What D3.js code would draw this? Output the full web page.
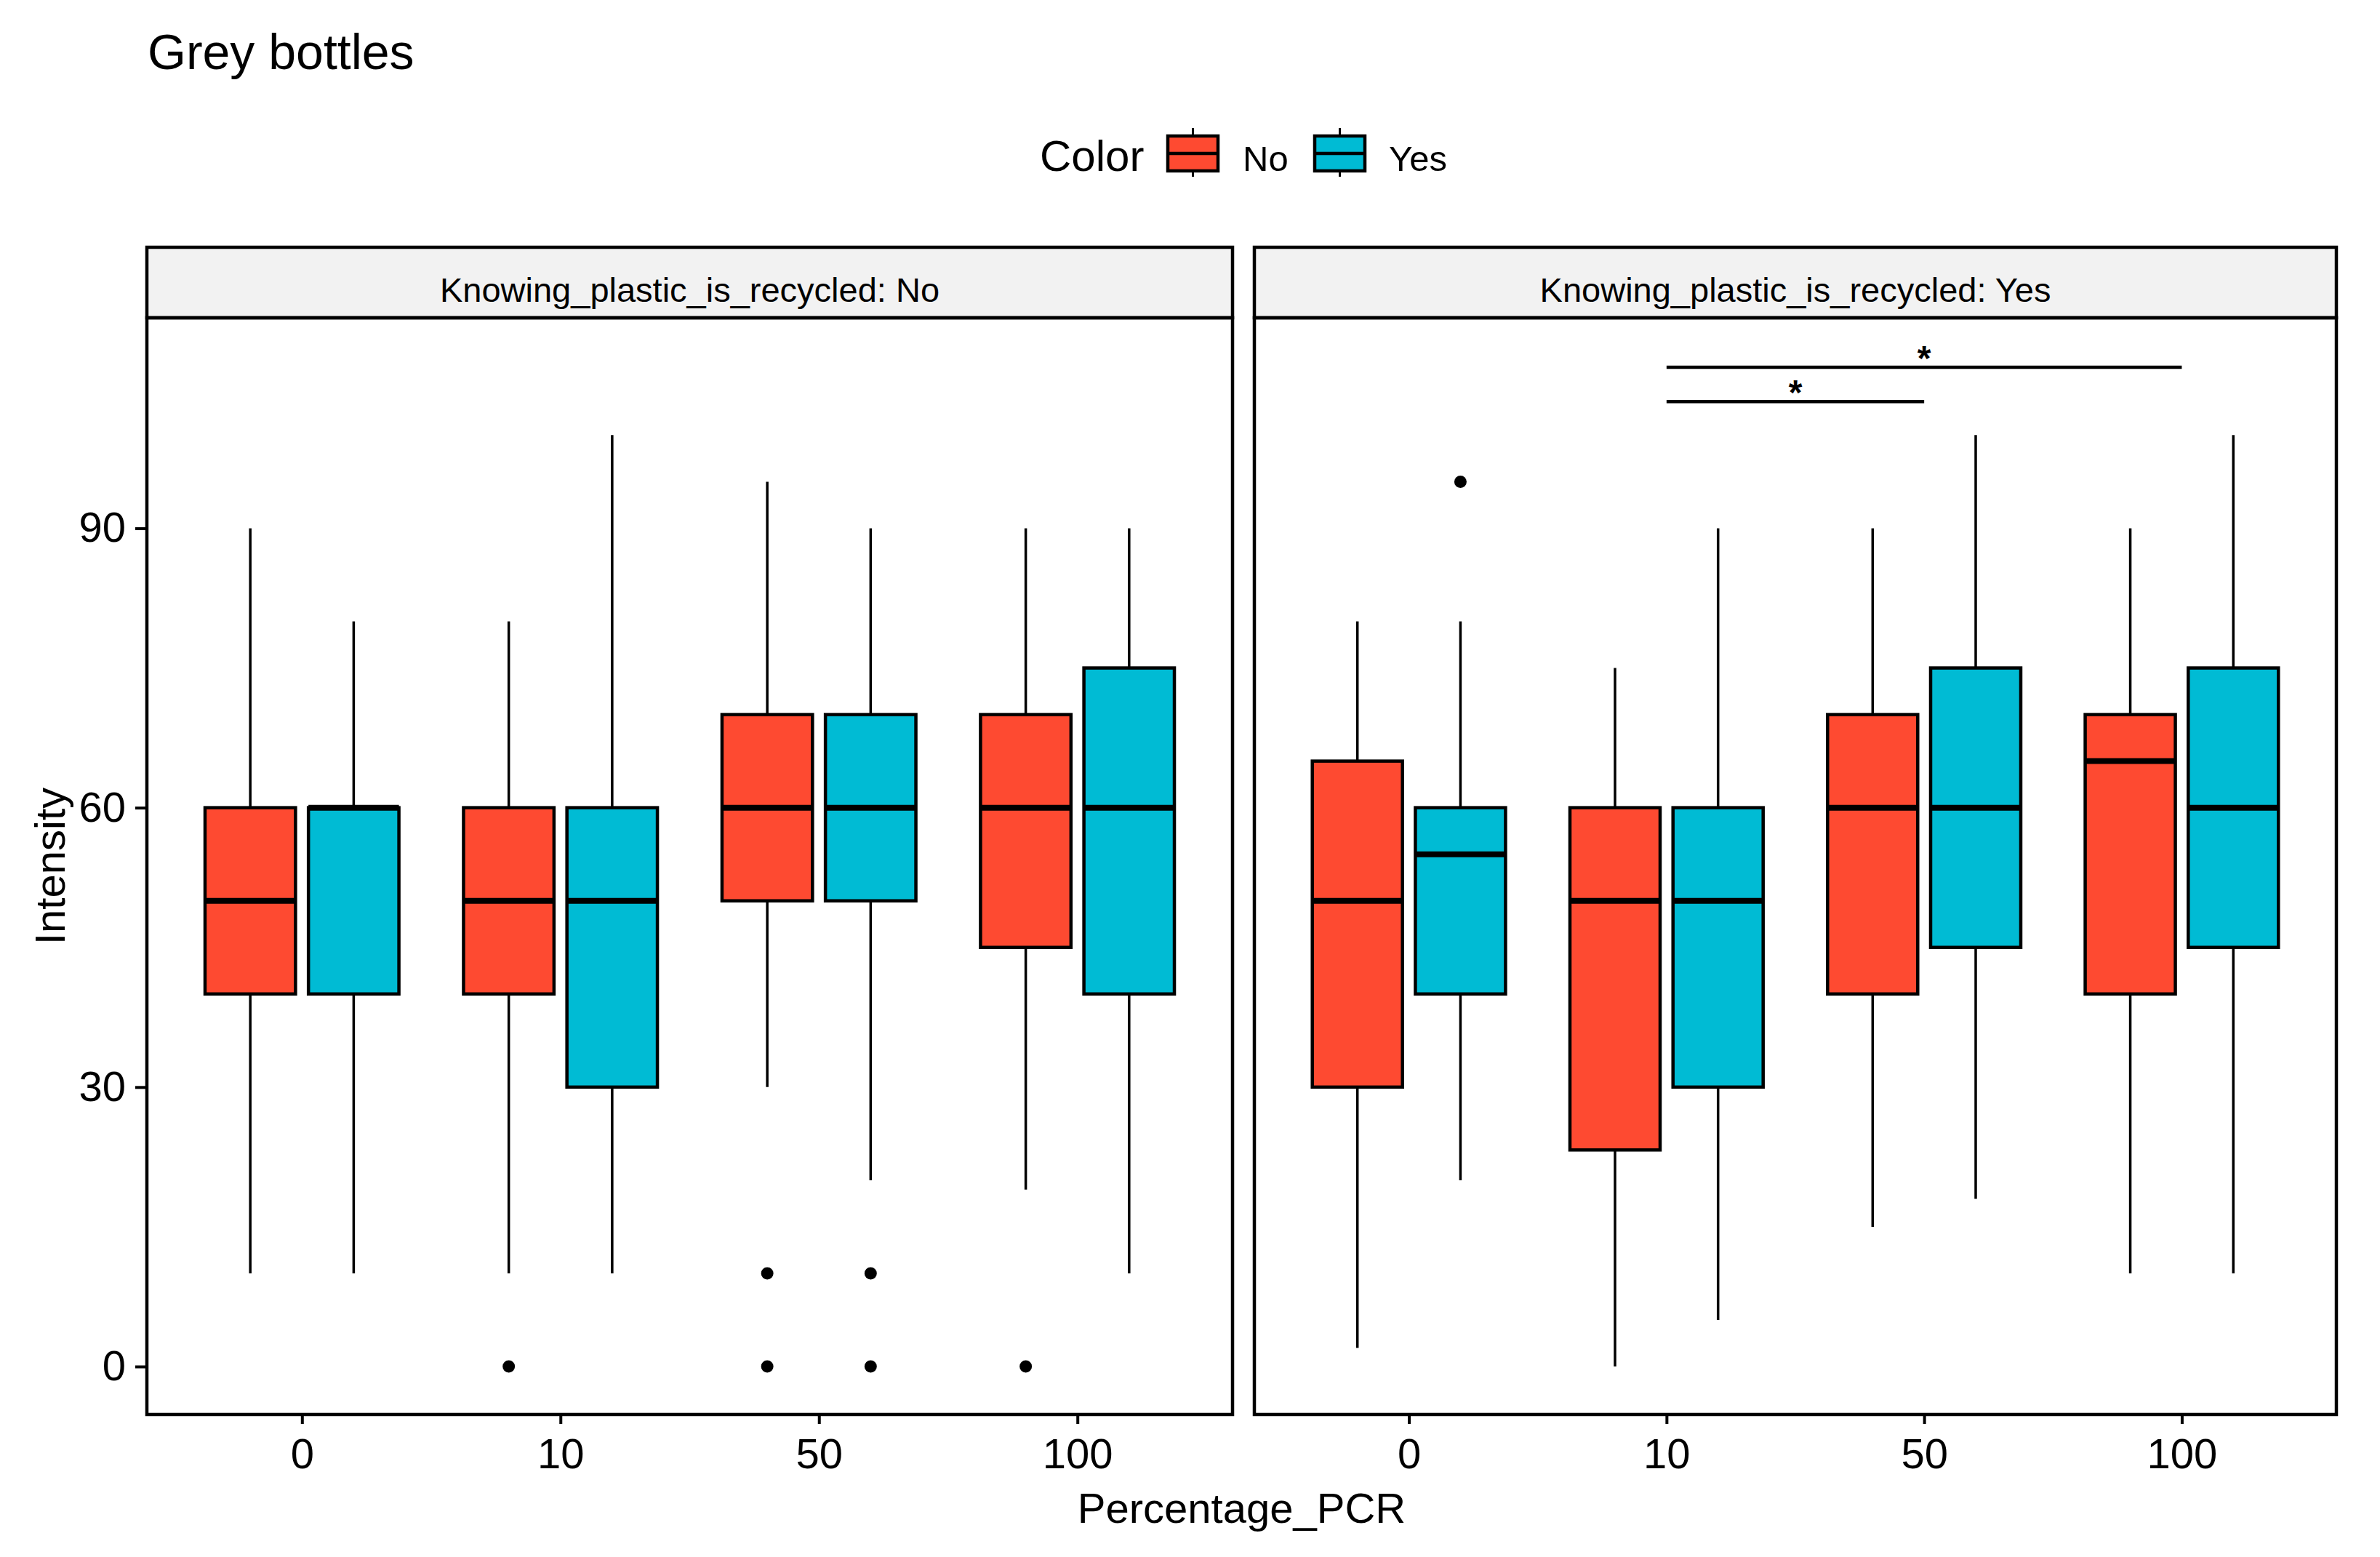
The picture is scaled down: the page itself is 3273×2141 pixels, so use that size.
<!DOCTYPE html>
<html>
<head>
<meta charset="utf-8">
<script src="https://cdn.jsdelivr.net/npm/d3@7"></script>
<style>
  body { margin: 0; background: #fff; }
  text { font-family: "Liberation Sans", Arial, sans-serif; fill: #000; }
</style>
</head>
<body>
<svg id="chart"></svg>
<script>
// categories and groups
var categories = ["0", "10", "50", "100"];
var colorGroups = ["No", "Yes"];
var facets = ["No", "Yes"];
var yTicks = [0, 30, 60, 90];

// five number summaries per category: [lower whisker, q1, median, q3, upper whisker]
var boxNo_No = [[10, 40, 50, 60, 90], [10, 40, 50, 60, 80], [30, 50, 60, 70, 95], [19, 45, 60, 70, 90]];
var boxNo_Yes = [[10, 40, 60, 60, 80], [10, 30, 50, 60, 100], [20, 50, 60, 70, 90], [10, 40, 60, 75, 90]];
var boxYes_No = [[2, 30, 50, 65, 80], [0, 23.25, 50, 60, 75], [15, 40, 60, 70, 90], [10, 40, 65, 70, 90]];
var boxYes_Yes = [[20, 40, 55, 60, 80], [5, 30, 50, 60, 90], [18, 45, 60, 75, 100], [10, 45, 60, 75, 100]];

// outliers per category
var outNo_No = [[], [0], [10, 0], [0]];
var outNo_Yes = [[], [], [10, 0], []];
var outYes_No = [[], [], [], []];
var outYes_Yes = [[95], [], [], []];

// significance brackets (facet "Yes")
var sigFrom = ["10", "10"];
var sigTo = ["100", "50"];
var sigY = [107.3, 103.6];
var sigLabel = ["*", "*"];

var fillColor = { "No": "#FE4A31", "Yes": "#00BBD4" };

var W = 3273, H = 2141;
var plotTop = 437, plotBottom = 1945, stripTop = 340;
var panelX = { "No": [202, 1695], "Yes": [1725, 3213] };

var boxes = {
  "No": { "No": boxNo_No, "Yes": boxNo_Yes },
  "Yes": { "No": boxYes_No, "Yes": boxYes_Yes }
};
var outs = {
  "No": { "No": outNo_No, "Yes": outNo_Yes },
  "Yes": { "No": outYes_No, "Yes": outYes_Yes }
};

var svg = d3.select("#chart").attr("width", W).attr("height", H);

var y = d3.scaleLinear().domain([-5.15, 112.6]).range([plotBottom, plotTop]);

// title
svg.append("text").attr("x", 203).attr("y", 95)
  .style("font-size", "68px").text("Grey bottles");

// legend
var lg = svg.append("g");
lg.append("text").attr("x", 1430).attr("y", 235).style("font-size", "60px").text("Color");
var legendKeys = [{ k: "No", x: 1606, tx: 1709 }, { k: "Yes", x: 1808, tx: 1910 }];
legendKeys.forEach(function (d) {
  var cx = d.x + 34.5;
  lg.append("line").attr("x1", cx).attr("x2", cx).attr("y1", 176).attr("y2", 243)
    .attr("stroke", "#000").attr("stroke-width", 3);
  lg.append("rect").attr("x", d.x).attr("y", 187).attr("width", 69).attr("height", 48)
    .attr("fill", fillColor[d.k]).attr("stroke", "#000").attr("stroke-width", 4.5);
  lg.append("line").attr("x1", d.x).attr("x2", d.x + 69).attr("y1", 211).attr("y2", 211)
    .attr("stroke", "#000").attr("stroke-width", 4.5);
  lg.append("text").attr("x", d.tx).attr("y", 235).style("font-size", "49px").text(d.k);
});

facets.forEach(function (f) {
  var x0 = panelX[f][0], x1 = panelX[f][1];
  var x = d3.scalePoint().domain(categories).range([x0, x1]).padding(0.6);
  var step = x.step();
  var inner = d3.scaleBand().domain(colorGroups).range([-0.4 * step, 0.4 * step]);
  var bw = inner.bandwidth() * 0.875;

  var g = svg.append("g");

  // strip
  g.append("rect").attr("x", x0).attr("y", stripTop).attr("width", x1 - x0).attr("height", plotTop - stripTop)
    .attr("fill", "#F2F2F2").attr("stroke", "#000").attr("stroke-width", 4.5);
  g.append("text").attr("x", (x0 + x1) / 2).attr("y", 415).attr("text-anchor", "middle")
    .style("font-size", "47px").text("Knowing_plastic_is_recycled: " + f);

  // boxes
  colorGroups.forEach(function (c) {
    var data = boxes[f][c].map(function (s, i) { return { cat: categories[i], s: s, out: outs[f][c][i] }; });
    var bg = g.append("g").selectAll("g").data(data).enter().append("g")
      .attr("transform", function (d) { return "translate(" + (x(d.cat) + inner(c) + inner.bandwidth() / 2) + ",0)"; });
    bg.append("line").attr("x1", 0).attr("x2", 0)
      .attr("y1", function (d) { return y(d.s[0]); }).attr("y2", function (d) { return y(d.s[4]); })
      .attr("stroke", "#000").attr("stroke-width", 3.5);
    bg.append("rect").attr("x", -bw / 2).attr("width", bw)
      .attr("y", function (d) { return y(d.s[3]); })
      .attr("height", function (d) { return y(d.s[1]) - y(d.s[3]); })
      .attr("fill", fillColor[c]).attr("stroke", "#000").attr("stroke-width", 4.5);
    bg.append("line").attr("x1", -bw / 2).attr("x2", bw / 2)
      .attr("y1", function (d) { return y(d.s[2]); }).attr("y2", function (d) { return y(d.s[2]); })
      .attr("stroke", "#000").attr("stroke-width", 8);
    bg.selectAll("circle").data(function (d) { return d.out; }).enter().append("circle")
      .attr("cx", 0).attr("cy", function (v) { return y(v); }).attr("r", 8.5).attr("fill", "#000");
  });

  // significance brackets
  if (f === "Yes") {
    sigY.forEach(function (v, i) {
      g.append("line").attr("x1", x(sigFrom[i])).attr("x2", x(sigTo[i]))
        .attr("y1", y(v)).attr("y2", y(v)).attr("stroke", "#000").attr("stroke-width", 4.5);
      g.append("text").attr("x", (x(sigFrom[i]) + x(sigTo[i])) / 2).attr("y", y(v) + 4)
        .attr("text-anchor", "middle").style("font-size", "48px").style("font-weight", "bold").text(sigLabel[i]);
    });
  }

  // panel border
  g.append("rect").attr("x", x0).attr("y", plotTop).attr("width", x1 - x0).attr("height", plotBottom - plotTop)
    .attr("fill", "none").attr("stroke", "#000").attr("stroke-width", 4.5);

  // x axis
  var xa = g.append("g").attr("transform", "translate(0," + plotBottom + ")")
    .call(d3.axisBottom(x).tickSize(13).tickPadding(20));
  xa.select(".domain").remove();
  xa.selectAll("line").attr("stroke", "#000").attr("stroke-width", 4);
  xa.selectAll("text").style("font-size", "58px").attr("fill", "#000");

  // y axis (left panel only)
  if (f === "No") {
    var ya = g.append("g").attr("transform", "translate(" + x0 + ",0)")
      .call(d3.axisLeft(y).tickValues(yTicks).tickSize(16).tickPadding(13));
    ya.select(".domain").remove();
    ya.selectAll("line").attr("stroke", "#000").attr("stroke-width", 4);
    ya.selectAll("text").style("font-size", "58px").attr("fill", "#000");
  }
});

// axis titles
svg.append("text").attr("x", (202 + 3213) / 2).attr("y", 2094).attr("text-anchor", "middle")
  .style("font-size", "58px").text("Percentage_PCR");
svg.append("text").attr("transform", "translate(89," + ((plotTop + plotBottom) / 2) + ") rotate(-90)")
  .attr("text-anchor", "middle").style("font-size", "58px").text("Intensity");
</script>
</body>
</html>
